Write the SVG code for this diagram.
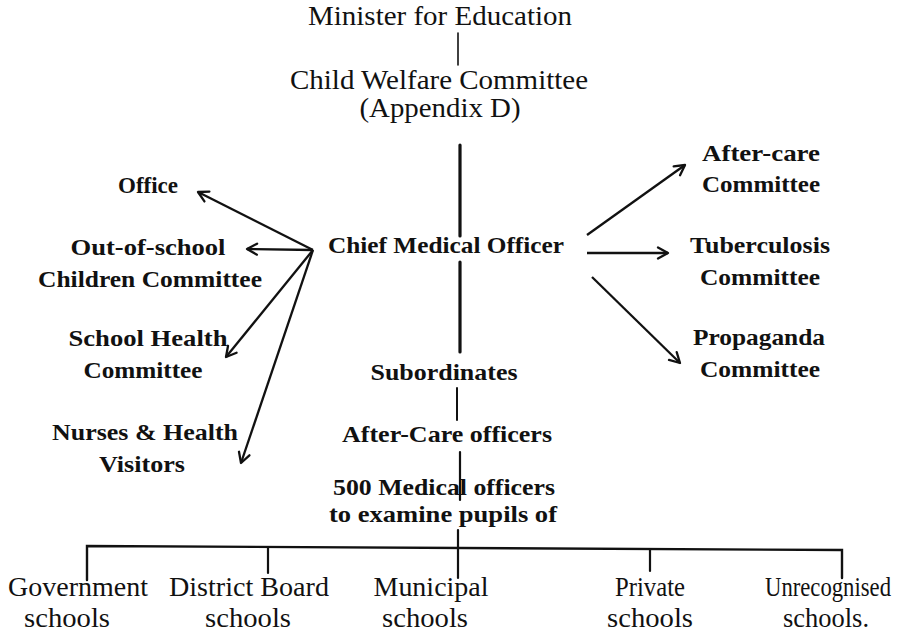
<svg xmlns="http://www.w3.org/2000/svg" width="906" height="635" viewBox="0 0 906 635">
  <style>
    .top { font-family: "Liberation Serif", serif; font-size: 27px; fill: #111; text-anchor: middle; }
    .mid { font-family: "Liberation Serif", serif; font-size: 24px; font-weight: bold; fill: #111; text-anchor: middle; }
    .bot { font-family: "Liberation Serif", serif; font-size: 27px; fill: #111; text-anchor: middle; }
    .ln { stroke: #111; fill: none; stroke-linecap: round; }
    .arrow { stroke: #111; stroke-width: 2.3; fill: none; marker-end: url(#head); }
  </style>
  <defs>
    <marker id="head" viewBox="0 0 14 14" refX="12" refY="7" markerWidth="14" markerHeight="14" markerUnits="userSpaceOnUse" orient="auto">
      <path d="M2,1.5 L12,7 L2,12.5" fill="none" stroke="#111" stroke-width="2.3" stroke-linecap="round" stroke-linejoin="round"/>
    </marker>
  </defs>
  <rect width="906" height="635" fill="#fff"/>

  <!-- hierarchy column -->
  <g id="minister"><text class="top" x="440" y="25" textLength="264" lengthAdjust="spacingAndGlyphs">Minister for Education</text></g>
  <g id="child-welfare">
    <text class="top" x="439" y="89" textLength="298" lengthAdjust="spacingAndGlyphs">Child Welfare Committee</text>
    <text class="top" x="440" y="117" textLength="161" lengthAdjust="spacingAndGlyphs">(Appendix D)</text>
  </g>
  <g id="chief-medical"><text class="mid" x="446" y="253" textLength="236" lengthAdjust="spacingAndGlyphs">Chief Medical Officer</text></g>
  <g id="subordinates"><text class="mid" x="444" y="380" textLength="147" lengthAdjust="spacingAndGlyphs">Subordinates</text></g>
  <g id="after-care-officers"><text class="mid" x="447" y="442" textLength="210" lengthAdjust="spacingAndGlyphs">After-Care officers</text></g>
  <g id="medical-officers">
    <text class="mid" x="444" y="495" textLength="222" lengthAdjust="spacingAndGlyphs">500 Medical officers</text>
    <text class="mid" x="443" y="522" textLength="228" lengthAdjust="spacingAndGlyphs">to examine pupils of</text>
  </g>

  <!-- left branch -->
  <g id="office"><text class="mid" x="148" y="193" textLength="60" lengthAdjust="spacingAndGlyphs">Office</text></g>
  <g id="out-of-school">
    <text class="mid" x="148" y="255" textLength="155" lengthAdjust="spacingAndGlyphs">Out-of-school</text>
    <text class="mid" x="150" y="287" textLength="224" lengthAdjust="spacingAndGlyphs">Children Committee</text>
  </g>
  <g id="school-health">
    <text class="mid" x="148" y="346" textLength="159" lengthAdjust="spacingAndGlyphs">School Health</text>
    <text class="mid" x="143" y="378" textLength="119" lengthAdjust="spacingAndGlyphs">Committee</text>
  </g>
  <g id="nurses">
    <text class="mid" x="145" y="440" textLength="186" lengthAdjust="spacingAndGlyphs">Nurses &amp; Health</text>
    <text class="mid" x="142" y="472" textLength="86" lengthAdjust="spacingAndGlyphs">Visitors</text>
  </g>

  <!-- right branch -->
  <g id="after-care-committee">
    <text class="mid" x="761" y="161" textLength="118" lengthAdjust="spacingAndGlyphs">After-care</text>
    <text class="mid" x="761" y="192" textLength="118" lengthAdjust="spacingAndGlyphs">Committee</text>
  </g>
  <g id="tuberculosis">
    <text class="mid" x="760" y="253" textLength="140" lengthAdjust="spacingAndGlyphs">Tuberculosis</text>
    <text class="mid" x="760" y="285" textLength="120" lengthAdjust="spacingAndGlyphs">Committee</text>
  </g>
  <g id="propaganda">
    <text class="mid" x="759" y="345" textLength="132" lengthAdjust="spacingAndGlyphs">Propaganda</text>
    <text class="mid" x="760" y="377" textLength="120" lengthAdjust="spacingAndGlyphs">Committee</text>
  </g>

  <!-- schools -->
  <g id="government">
    <text class="bot" x="78" y="596" textLength="140" lengthAdjust="spacingAndGlyphs">Government</text>
    <text class="bot" x="67" y="627" textLength="86" lengthAdjust="spacingAndGlyphs">schools</text>
  </g>
  <g id="district-board">
    <text class="bot" x="249" y="596" textLength="160" lengthAdjust="spacingAndGlyphs">District Board</text>
    <text class="bot" x="248" y="627" textLength="86" lengthAdjust="spacingAndGlyphs">schools</text>
  </g>
  <g id="municipal">
    <text class="bot" x="431" y="596" textLength="115" lengthAdjust="spacingAndGlyphs">Municipal</text>
    <text class="bot" x="425" y="627" textLength="86" lengthAdjust="spacingAndGlyphs">schools</text>
  </g>
  <g id="private">
    <text class="bot" x="650" y="596" textLength="70" lengthAdjust="spacingAndGlyphs">Private</text>
    <text class="bot" x="650" y="627" textLength="86" lengthAdjust="spacingAndGlyphs">schools</text>
  </g>
  <g id="unrecognised">
    <text class="bot" x="828" y="596" textLength="126" lengthAdjust="spacingAndGlyphs">Unrecognised</text>
    <text class="bot" x="826" y="627" textLength="86" lengthAdjust="spacingAndGlyphs">schools.</text>
  </g>

  <g id="connectors">
    <line class="ln" x1="458" y1="33" x2="458" y2="65" stroke-width="1.6"/>
    <line class="ln" x1="460" y1="145" x2="460" y2="236" stroke-width="3.2"/>
    <line class="ln" x1="460" y1="262" x2="460" y2="352" stroke-width="3.2"/>
    <line class="ln" x1="457" y1="388" x2="457" y2="420" stroke-width="2"/>
    <line class="ln" x1="460" y1="452" x2="460" y2="500" stroke-width="2.2"/>
    <line class="ln" x1="458" y1="530" x2="458" y2="578" stroke-width="2.2"/>
    <path class="ln" d="M87,580 L87,546 L842,550 L842,578" stroke-width="2.4"/>
    <line class="ln" x1="268" y1="547" x2="268" y2="573" stroke-width="2.2"/>
    <line class="ln" x1="650" y1="549" x2="650" y2="571" stroke-width="2.2"/>

    <line class="arrow" x1="313" y1="250" x2="198" y2="192"/>
    <line class="arrow" x1="313" y1="250" x2="247" y2="249"/>
    <line class="arrow" x1="313" y1="250" x2="226" y2="357"/>
    <line class="arrow" x1="313" y1="250" x2="241" y2="463"/>

    <line class="arrow" x1="587" y1="235" x2="685" y2="165"/>
    <line class="arrow" x1="587" y1="253" x2="668" y2="253"/>
    <line class="arrow" x1="592" y1="277" x2="680" y2="363"/>
  </g>
</svg>
